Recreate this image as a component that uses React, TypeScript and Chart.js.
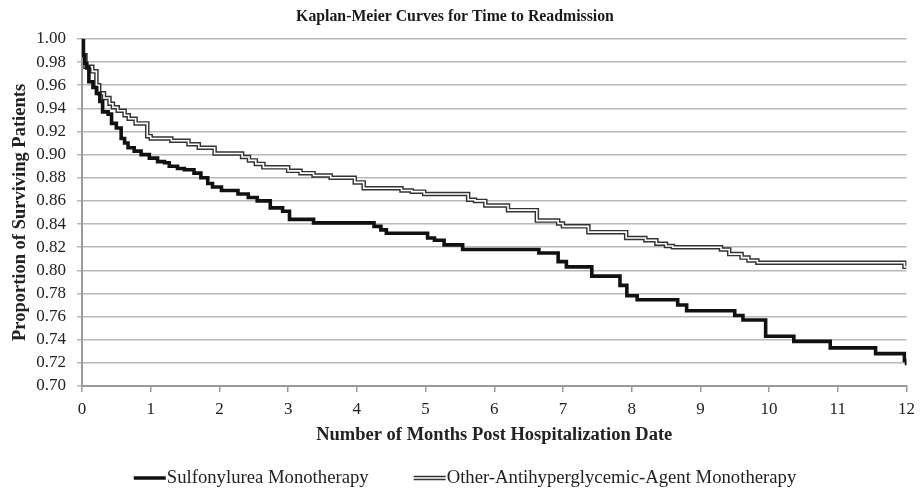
import React, { useEffect, useRef } from 'react';
import { Chart, registerables } from 'chart.js';

Chart.register(...registerables);

const TITLE = 'Kaplan-Meier Curves for Time to Readmission';
const X_TITLE = 'Number of Months Post Hospitalization Date';
const Y_TITLE = 'Proportion of Surviving Patients';
const SERIES_NAMES = ['Sulfonylurea Monotherapy', 'Other-Antihyperglycemic-Agent Monotherapy'];

const xTicks = [0, 1, 2, 3, 4, 5, 6, 7, 8, 9, 10, 11, 12];
const yTicks = [0.7, 0.72, 0.74, 0.76, 0.78, 0.8, 0.82, 0.84, 0.86, 0.88, 0.9, 0.92, 0.94, 0.96, 0.98, 1.0];

const sulfTimes = [0, 0.015, 0.04, 0.07, 0.1, 0.16, 0.21, 0.26, 0.3, 0.38, 0.43, 0.5, 0.57, 0.62, 0.67, 0.76, 0.86, 0.98, 1.1, 1.2, 1.27, 1.39, 1.49, 1.63, 1.73, 1.83, 1.9, 2.03, 2.27, 2.42, 2.55, 2.74, 2.92, 3.02, 3.37, 4.25, 4.35, 4.43, 5.03, 5.13, 5.27, 5.54, 6.65, 6.93, 7.05, 7.42, 7.83, 7.93, 8.08, 8.67, 8.8, 9.5, 9.62, 9.95, 10.36, 10.89, 11.55, 11.97, 12];
const sulfValues = [1.0, 0.986, 0.979, 0.975, 0.963, 0.958, 0.953, 0.946, 0.937, 0.935, 0.927, 0.923, 0.914, 0.91, 0.906, 0.903, 0.9, 0.897, 0.894, 0.893, 0.89, 0.888, 0.887, 0.884, 0.88, 0.875, 0.872, 0.869, 0.866, 0.863, 0.86, 0.854, 0.851, 0.844, 0.841, 0.838, 0.835, 0.832, 0.828, 0.826, 0.822, 0.818, 0.815, 0.8075, 0.803, 0.795, 0.787, 0.778, 0.7745, 0.77, 0.765, 0.761, 0.757, 0.743, 0.7386, 0.733, 0.728, 0.722, 0.718];

const otherTimes = [0, 0.015, 0.05, 0.15, 0.21, 0.25, 0.32, 0.4, 0.45, 0.52, 0.62, 0.68, 0.78, 0.95, 1.0, 1.3, 1.55, 1.7, 1.93, 2.33, 2.43, 2.53, 2.64, 3.0, 3.18, 3.37, 3.62, 3.97, 4.1, 4.65, 4.8, 4.98, 5.62, 5.72, 5.87, 6.2, 6.62, 6.93, 7.0, 7.37, 7.92, 8.2, 8.36, 8.5, 8.6, 9.3, 9.42, 9.6, 9.7, 9.83, 11.97, 12];
const otherValues = [1.0, 0.986, 0.976, 0.972, 0.96, 0.953, 0.949, 0.944, 0.941, 0.938, 0.934, 0.931, 0.927, 0.916, 0.914, 0.912, 0.909, 0.906, 0.901, 0.898, 0.895, 0.892, 0.889, 0.886, 0.884, 0.882, 0.88, 0.876, 0.871, 0.869, 0.868, 0.866, 0.861, 0.86, 0.856, 0.852, 0.843, 0.8405, 0.838, 0.833, 0.828, 0.826, 0.823, 0.821, 0.82, 0.818, 0.814, 0.811, 0.8085, 0.8065, 0.803, 0.803];

const FONT = '"Liberation Serif", "Times New Roman", serif';
const TEXT = '#222222';
const LEGEND_SIZE = 18.7;

const toPoints = (xs: number[], ys: number[]) => xs.map((x, i) => ({ x, y: ys[i] }));

const legendPlugin = {
  id: 'kmLegend',
  afterDraw(chart: any) {
    const ctx = chart.ctx as CanvasRenderingContext2D;
    ctx.save();
    ctx.font = `${LEGEND_SIZE}px ${FONT}`;
    const sample = 32;
    const gapText = 1;
    const gapItems = 45;
    const w = SERIES_NAMES.map((n) => ctx.measureText(n).width);
    const total = sample * 2 + gapText * 2 + w[0] + w[1] + gapItems;
    let x = 465 - total / 2;
    const y = chart.height - 12;
    ctx.textBaseline = 'middle';
    ctx.textAlign = 'left';
    ctx.fillStyle = TEXT;
    ctx.beginPath();
    ctx.moveTo(x, y);
    ctx.lineTo(x + sample, y);
    ctx.strokeStyle = '#111111';
    ctx.lineWidth = 3.5;
    ctx.stroke();
    ctx.fillText(SERIES_NAMES[0], x + sample + gapText, y);
    x += sample + gapText + w[0] + gapItems;
    ctx.beginPath();
    ctx.moveTo(x, y);
    ctx.lineTo(x + sample, y);
    ctx.strokeStyle = '#333333';
    ctx.lineWidth = 4.5;
    ctx.stroke();
    ctx.beginPath();
    ctx.moveTo(x - 1, y);
    ctx.lineTo(x + sample + 1, y);
    ctx.strokeStyle = '#ffffff';
    ctx.lineWidth = 1.6;
    ctx.stroke();
    ctx.fillText(SERIES_NAMES[1], x + sample + gapText, y);
    ctx.restore();
  },
};

export default function App() {
  const ref = useRef<HTMLCanvasElement | null>(null);

  useEffect(() => {
    if (!ref.current) return;
    const chart = new Chart(ref.current, {
      type: 'line',
      data: {
        datasets: [
          {
            label: SERIES_NAMES[0],
            data: toPoints(sulfTimes, sulfValues),
            borderColor: '#111111',
            borderWidth: 3.6,
            stepped: 'before',
            pointRadius: 0,
            fill: false,
            borderJoinStyle: 'miter',
          },
          {
            label: SERIES_NAMES[1] + ' inner',
            data: toPoints(otherTimes, otherValues),
            borderColor: '#ffffff',
            borderWidth: 1.6,
            stepped: 'before',
            pointRadius: 0,
            fill: false,
            borderJoinStyle: 'miter',
          },
          {
            label: SERIES_NAMES[1],
            data: toPoints(otherTimes, otherValues),
            borderColor: '#333333',
            borderWidth: 4.5,
            stepped: 'before',
            pointRadius: 0,
            fill: false,
            borderJoinStyle: 'miter',
          },
        ],
      },
      options: {
        responsive: false,
        animation: false,
        events: [],
        layout: { padding: { top: 0, right: 12, bottom: 42, left: 0 } },
        plugins: {
          legend: { display: false },
          tooltip: { enabled: false },
          title: {
            display: true,
            text: TITLE,
            color: '#1a1a1a',
            font: { family: FONT, size: 15.8, weight: 'bold' },
            padding: { top: 7, bottom: 13 },
          },
        },
        scales: {
          x: {
            type: 'linear',
            min: 0,
            max: 12,
            afterBuildTicks: (scale: any) => {
              scale.ticks = xTicks.map((v) => ({ value: v }));
            },
            afterFit: (scale: any) => {
              scale.height = 62;
            },
            ticks: {
              color: TEXT,
              font: { family: FONT, size: 17 },
              padding: 7,
              maxRotation: 0,
              autoSkip: false,
            },
            grid: {
              drawOnChartArea: false,
              drawTicks: true,
              tickLength: 6,
              color: '#9a9a9a',
              lineWidth: 1.5,
            },
            border: { color: '#9a9a9a', width: 2 },
            title: {
              display: true,
              text: X_TITLE,
              color: TEXT,
              font: { family: FONT, size: 18.5, weight: 'bold' },
              padding: { top: 0, bottom: 2 },
            },
          },
          y: {
            type: 'linear',
            min: 0.7,
            max: 1.0,
            afterBuildTicks: (scale: any) => {
              scale.ticks = yTicks.map((v) => ({ value: v }));
            },
            afterFit: (scale: any) => {
              scale.width = 82;
            },
            ticks: {
              color: TEXT,
              font: { family: FONT, size: 17 },
              padding: 11,
              autoSkip: false,
              callback: (v: any) => Number(v).toFixed(2),
            },
            grid: {
              drawTicks: true,
              tickLength: 5,
              color: '#b8b8b8',
              lineWidth: 1.5,
            },
            border: { color: '#9a9a9a', width: 2 },
            title: {
              display: true,
              text: Y_TITLE,
              color: TEXT,
              font: { family: FONT, size: 18.5, weight: 'bold' },
              padding: { top: 9, bottom: 0 },
            },
          },
        },
      },
      plugins: [legendPlugin],
    });
    return () => chart.destroy();
  }, []);

  return (
    <div style={{ position: 'fixed', left: 0, top: 0, width: 922, height: 490, background: '#ffffff' }}>
      <canvas ref={ref} width={922} height={490} style={{ display: 'block' }} />
    </div>
  );
}
